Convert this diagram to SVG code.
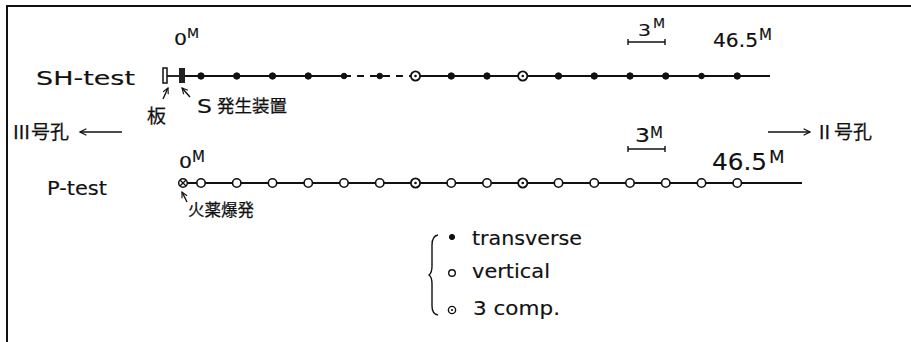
<svg xmlns="http://www.w3.org/2000/svg" width="911" height="342" viewBox="0 0 911 342">
<style>
.t{font-family:"DejaVu Sans","Liberation Sans",sans-serif;fill:#111;stroke:#111;stroke-width:0.15}
.j{font-family:"Noto Sans CJK JP","Noto Sans CJK SC",sans-serif;fill:#111;stroke:#111;stroke-width:0.25}
.ln{stroke:#111;stroke-width:1.8;fill:none}
.thin{stroke:#111;stroke-width:1.4;fill:none}
.fd{fill:#111;stroke:#111;stroke-width:1}
.od{fill:#fff;stroke:#111;stroke-width:1.6}
</style>
<defs>
<marker id="ah" viewBox="0 0 10 10" refX="9" refY="5" markerWidth="8" markerHeight="8" markerUnits="userSpaceOnUse" orient="auto">
<path d="M1,1 L9,5 L1,9" fill="none" stroke="#111" stroke-width="1.5"/>
</marker>
<marker id="sa" viewBox="0 0 10 10" refX="9" refY="5" markerWidth="7" markerHeight="7" markerUnits="userSpaceOnUse" orient="auto">
<path d="M1,1 L9,5 L1,9" fill="none" stroke="#111" stroke-width="1.6"/>
</marker>
<circle id="fdot" r="3.2" class="fd"/>
<circle id="odot" r="4.2" class="od"/>
<g id="comp"><circle r="4.6" fill="#fff" stroke="#111" stroke-width="1.8"/><circle r="1.3" fill="#111"/></g>
</defs>

<g id="frame">
<line x1="7" y1="6" x2="911" y2="6" stroke="#111" stroke-width="2"/>
<line x1="7" y1="5" x2="7" y2="342" stroke="#111" stroke-width="2"/>
</g>

<g id="connectors">
<line x1="167" y1="76" x2="179" y2="76" class="ln"/>
<line x1="185" y1="76" x2="344" y2="76" class="ln"/>
<line x1="344" y1="76" x2="415.5" y2="76" class="ln" stroke-dasharray="7,6"/>
<line x1="415.5" y1="76" x2="770" y2="76" class="ln"/>
<line x1="183" y1="183" x2="802" y2="183" class="ln"/>
<line x1="122" y1="132" x2="80" y2="132" class="thin" marker-end="url(#ah)"/>
<line x1="768" y1="132" x2="810" y2="132" class="thin" marker-end="url(#ah)"/>
<line x1="163" y1="99" x2="168" y2="88" class="thin" marker-end="url(#sa)"/>
<line x1="190" y1="97" x2="182" y2="88" class="thin" marker-end="url(#sa)"/>
<line x1="187" y1="202" x2="182" y2="192" class="thin" marker-end="url(#sa)"/>
<g class="thin">
<line x1="628" y1="42" x2="665" y2="42"/><line x1="628" y1="39" x2="628" y2="45"/><line x1="665" y1="39" x2="665" y2="45"/>
<line x1="628" y1="149" x2="665" y2="149"/><line x1="628" y1="146" x2="628" y2="152"/><line x1="665" y1="146" x2="665" y2="152"/>
</g>
</g>

<g id="sh-test">
<text class="t" x="36" y="85" font-size="19" textLength="99" lengthAdjust="spacingAndGlyphs">SH-test</text>
<text class="t" x="174" y="45" font-size="16.5" textLength="13" lengthAdjust="spacingAndGlyphs">0</text>
<text class="t" x="187" y="38" font-size="14">M</text>
<rect x="163" y="68" width="4" height="15" fill="#fff" stroke="#111" stroke-width="1.5"/>
<rect x="179" y="68" width="6" height="15" fill="#222"/>
<text class="j" x="147" y="123" font-size="19">板</text>
<text class="t" x="197" y="113" font-size="20" textLength="15" lengthAdjust="spacingAndGlyphs">S</text>
<text class="j" x="217" y="112" font-size="17.5">発生装置</text>
<text class="t" x="638" y="36" font-size="15.5" textLength="13" lengthAdjust="spacingAndGlyphs">3</text>
<text class="t" x="653" y="28" font-size="14">M</text>
<text class="t" x="713" y="47" font-size="20" textLength="45" lengthAdjust="spacingAndGlyphs">46.5</text>
<text class="t" x="759" y="40" font-size="15">M</text>
<use href="#fdot" x="201" y="76"/>
<use href="#fdot" x="236.75" y="76"/>
<use href="#fdot" x="272.5" y="76"/>
<use href="#fdot" x="308.25" y="76"/>
<circle cx="344" cy="76" r="2.8" class="fd"/>
<circle cx="379.75" cy="76" r="2.8" class="fd"/>
<use href="#comp" x="415.5" y="76"/>
<use href="#fdot" x="451.25" y="76"/>
<use href="#fdot" x="487" y="76"/>
<use href="#comp" x="522.75" y="76"/>
<use href="#fdot" x="558.5" y="76"/>
<use href="#fdot" x="594.25" y="76"/>
<use href="#fdot" x="630" y="76"/>
<use href="#fdot" x="665.75" y="76"/>
<circle cx="701.5" cy="76" r="2.8" class="fd"/>
<use href="#fdot" x="737.25" y="76"/>
</g>

<g id="directions">
<text class="j" x="12" y="139" font-size="19">Ⅲ号孔</text>
<text class="j" x="815" y="139" font-size="19">Ⅱ号孔</text>
</g>

<g id="p-test">
<text class="t" x="47" y="195" font-size="19" textLength="60" lengthAdjust="spacingAndGlyphs">P-test</text>
<text class="t" x="179" y="168" font-size="16" textLength="13" lengthAdjust="spacingAndGlyphs">0</text>
<text class="t" x="192" y="162" font-size="15">M</text>
<g transform="translate(183,183)">
<circle r="4.3" fill="#fff" stroke="#111" stroke-width="1.5"/>
<path d="M-2.8,-2.8 L2.8,2.8 M-2.8,2.8 L2.8,-2.8" stroke="#111" stroke-width="1.3"/>
</g>
<text class="j" x="188" y="216" font-size="16.5">火薬爆発</text>
<text class="t" x="635" y="142" font-size="19" textLength="15" lengthAdjust="spacingAndGlyphs">3</text>
<text class="t" x="650" y="138" font-size="15">M</text>
<text class="t" x="712" y="170" font-size="23" textLength="55" lengthAdjust="spacingAndGlyphs">46.5</text>
<text class="t" x="769" y="163" font-size="18">M</text>
<use href="#odot" x="201" y="183"/>
<use href="#odot" x="236.75" y="183"/>
<use href="#odot" x="272.5" y="183"/>
<use href="#odot" x="308.25" y="183"/>
<use href="#odot" x="344" y="183"/>
<use href="#odot" x="379.75" y="183"/>
<use href="#comp" x="415.5" y="183"/>
<use href="#odot" x="451.25" y="183"/>
<use href="#odot" x="487" y="183"/>
<use href="#comp" x="522.75" y="183"/>
<use href="#odot" x="558.5" y="183"/>
<use href="#odot" x="594.25" y="183"/>
<use href="#odot" x="630" y="183"/>
<use href="#odot" x="665.75" y="183"/>
<use href="#odot" x="701.5" y="183"/>
<use href="#odot" x="737.25" y="183"/>
</g>

<g id="legend">
<path d="M438,235 Q432,236 432,245 L432,266 Q432,273 429,275 Q432,277 432,284 L432,306 Q432,314 438,315" class="thin"/>
<circle cx="452" cy="237" r="2.6" class="fd"/>
<text class="t" x="472" y="245" font-size="19" textLength="110" lengthAdjust="spacingAndGlyphs">transverse</text>
<circle cx="452" cy="273" r="3.3" fill="#fff" stroke="#111" stroke-width="1.4"/>
<text class="t" x="472" y="278" font-size="19" textLength="78" lengthAdjust="spacingAndGlyphs">vertical</text>
<circle cx="452" cy="310" r="3.6" fill="#fff" stroke="#111" stroke-width="1.4"/>
<circle cx="452" cy="310" r="1.1" fill="#111"/>
<text class="t" x="473" y="315" font-size="19" textLength="87" lengthAdjust="spacingAndGlyphs">3 comp.</text>
</g>
</svg>
